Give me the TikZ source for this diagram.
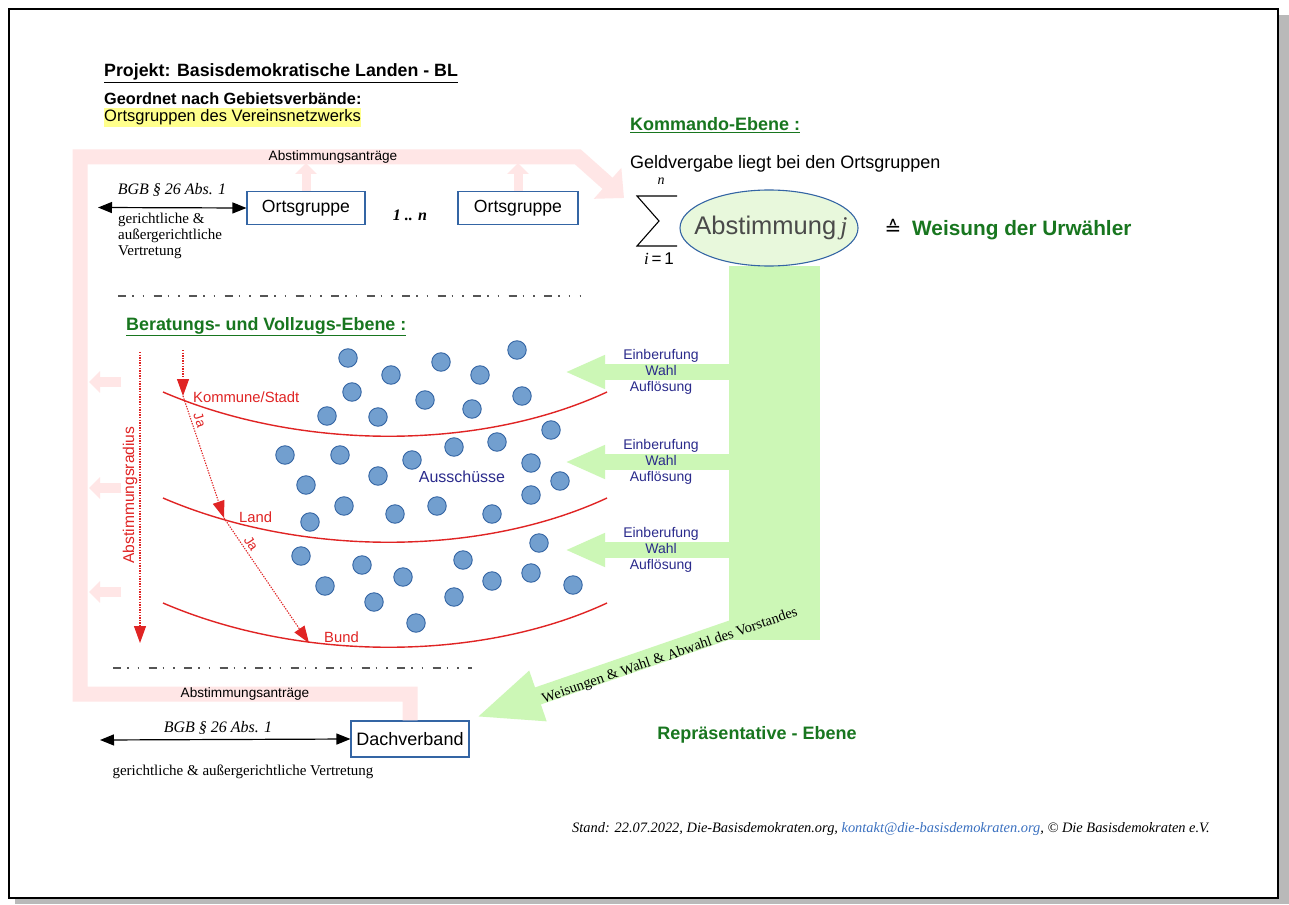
\documentclass[tikz,border=0pt]{standalone}
\usepackage{fontspec}
\setmainfont{Liberation Sans}
\newfontfamily\serif{Liberation Serif}
\newfontfamily\dejavu{DejaVu Sans}
\usetikzlibrary{arrows.meta,shapes.geometric}
\definecolor{sblue}{HTML}{3465A4}
\definecolor{cfill}{HTML}{729FCF}
\definecolor{egreen}{HTML}{E8F8DC}
\definecolor{lgreen}{HTML}{CCF7B6}
\definecolor{dgreen}{HTML}{18761F}
\definecolor{pinkb}{HTML}{FFE6E6}
\definecolor{redc}{HTML}{E02424}
\definecolor{navy}{HTML}{2B2B8C}
\definecolor{hilite}{HTML}{FFFF8C}
\definecolor{linkblue}{HTML}{3A70C0}
\definecolor{sepgray}{HTML}{555555}
\definecolor{abgray}{HTML}{4A4A4A}
\newcommand\fsz[2]{\fontsize{#1}{#2}\selectfont}
\begin{document}
\begin{tikzpicture}[x=1pt,y=-1pt,
  obox/.style={draw=sblue, line width=1.1pt, fill=white, inner sep=0pt, minimum height=33pt, font=\fsz{17.6}{20}},
  circ/.style={circle, draw=sblue, fill=cfill, line width=0.9pt, minimum size=18.5pt, inner sep=0pt},
  dblarrow/.style={line width=1.2pt, {Triangle[length=14pt,width=11pt]}-{Triangle[length=14pt,width=11pt]}},
  pinkband/.style={draw=pinkb, line width=15pt, line join=miter, -{Triangle[length=22pt,width=40pt]}},
  pinkup/.style={draw=pinkb, line width=9pt, -{Triangle[length=11pt,width=21pt]}},
  garrow/.style={draw=lgreen, line width=16pt, -{Triangle[length=40pt,width=31pt]}},
  reddot/.style={draw=redc, line width=1.1pt, dash pattern=on 1.3pt off 1.3pt, -{Triangle[length=17pt,width=12pt]}},
  redcurve/.style={draw=redc, line width=1.4pt},
  redlbl/.style={text=redc, font=\fsz{14.8}{17}, inner sep=1pt},
  sepline/.style={draw=sepgray, line width=1.4pt, dash pattern=on 8pt off 6pt on 1.5pt off 9pt on 1.5pt off 9.5pt},
  glbl/.style={text=navy, font=\fsz{14}{16}, align=center, inner sep=0pt},
  serifsm/.style={font=\serif\fsz{15}{16}, inner sep=0pt},
  bgb/.style={font=\serif\itshape\fsz{16}{18}, inner sep=0pt}
]
\useasboundingbox (0,0) rectangle (1289,904);
% page frame
\fill[white] (0,0) rectangle (1289,904);
\fill[gray!55] (15,15) rectangle (1289,904);
\draw[fill=white, line width=1.8pt] (9,9) rectangle (1278,898);

% header texts
\node[anchor=base west, inner sep=0pt] (title) at (104,77) {\fsz{17.8}{20}\bfseries\underline{Projekt: Basisdemokratische Landen - BL}};
\node[anchor=base west, inner sep=0pt] (geo) at (104,105) {\fsz{16.3}{18}\bfseries Geordnet nach Gebietsverbände:};
\node[anchor=base west, fill=hilite, inner xsep=0pt, inner ysep=2pt] (ovn) at (104,122) {\fsz{16.5}{18}Ortsgruppen des Vereinsnetzwerks};

% Kommando-Ebene
\node[anchor=base west, inner sep=0pt, text=dgreen] (kom) at (630,131) {\fsz{18}{20}\bfseries\underline{Kommando-Ebene :}};
\node[anchor=base west, inner sep=0pt] (geld) at (630,169) {\fsz{18}{20}Geldvergabe liegt bei den Ortsgruppen};

% green vertical band
\node[fill=lgreen, minimum width=91pt, minimum height=374pt, inner sep=0pt] (band) at (774.5,453) {};

% ellipse
\node[ellipse, draw=sblue, line width=1.1pt, fill=egreen, minimum width=178pt, minimum height=76pt, inner sep=0pt] (abst) at (769,228) {};
\node[inner sep=0pt] (abstt) at (771,228) {\color{abgray}\fsz{25.5}{28}Abstimmung\,{\serif\itshape j}};
% sum symbol
\draw[line width=1.1pt, line join=miter] (677,196) -- (637,196) -- (659,221) -- (637,246) -- (677,246);
\node[inner sep=0pt] (sn) at (661,181) {\serif\itshape\fsz{14}{16}n};
\node[inner sep=0pt] (si) at (659,259) {\fsz{17}{18}{\serif\itshape i}\,=\,1};
\node[inner sep=0pt] (corr) at (893,227) {\dejavu\fsz{20}{22}≙};
\node[anchor=base west, inner sep=0pt, text=dgreen] (weis) at (912,235) {\fsz{20.8}{23}\bfseries Weisung der Urwähler};

% Ortsgruppen
\node[obox, minimum width=118pt] (og1) at (306,208) {Ortsgruppe};
\node[obox, minimum width=120pt] (og2) at (518,208) {Ortsgruppe};
\node[inner sep=0pt] (dots) at (410,215) {\serif\bfseries\itshape\fsz{16}{18}1 .. n};
\coordinate (lend1) at (98,207.5);
\draw[dblarrow] (lend1) -- (og1.west);
\node[bgb] (bgb1) at (172,190) {BGB § 26 Abs. 1};
\node[serifsm, anchor=north west, align=left] (vert1) at (118,213) {gerichtliche \&\\außergerichtliche\\Vertretung};

% Dachverband
\node[obox, minimum width=118pt, minimum height=36pt, font=\fsz{18}{20}] (dach) at (410,739) {Dachverband};
\coordinate (lend2) at (100,740);
\draw[dblarrow] (lend2) -- (dach.west);
\node[bgb] (bgb2) at (218,728) {BGB § 26 Abs. 1};
\node[serifsm] (vert2) at (243,772) {gerichtliche \& außergerichtliche Vertretung};

% pink band (Abstimmungsanträge)
\draw[pinkband] (dach.north) |- (80,694) |- (578,157) -- (624,198);
\draw[pinkup] (og1.north) -- (og1.north |- 0,163);
\draw[pinkup] (og2.north) -- (og2.north |- 0,163);
\foreach \yy [count=\k] in {382,488,592} {
  \coordinate (ps\k) at (121,\yy);
  \coordinate (pe\k) at (89,\yy);
  \draw[draw=pinkb, line width=10pt, -{Triangle[length=11pt,width=21pt]}] (ps\k) -- (pe\k);
}
\node[inner sep=0pt] (aa1) at (333,157) {\fsz{13.6}{15}Abstimmungsanträge};
\node[inner sep=0pt] (aa2) at (245,694) {\fsz{13.6}{15}Abstimmungsanträge};

% separators
\draw[sepline] (118,296) -- (580,296);
\draw[sepline] (113,668) -- (472,668);

% Beratungs-Ebene
\node[anchor=base west, inner sep=0pt, text=dgreen] (ber) at (126,330) {\fsz{17.9}{20}\bfseries\underline{Beratungs- und Vollzugs-Ebene :}};

% red curves
\draw[redcurve] (163,392) .. controls (300,451) and (480,451) .. (607,392);
\draw[redcurve] (163,498) .. controls (300,557) and (480,557) .. (607,498);
\draw[redcurve] (163,603) .. controls (300,662) and (480,662) .. (607,603);
\node[redlbl, anchor=west] (kst) at (192,397) {Kommune/Stadt};
\node[redlbl, anchor=west] (lnd) at (238,517) {Land};
\node[redlbl, anchor=west] (bnd) at (323,637) {Bund};

% red dotted arrows
\coordinate (ar0) at (140,352);
\coordinate (ar1) at (140,643);
\draw[reddot] (ar0) -- (ar1);
\node[redlbl, rotate=90, font=\fsz{15.6}{17}] (radius) at (130,495) {Abstimmungsradius};
\coordinate (k0) at (183,350);
\coordinate (k1) at (183,396);
\coordinate (k2) at (224,518);
\coordinate (k3) at (309,643);
\draw[reddot] (k0) -- (k1);
\draw[reddot] (k1) -- node[sloped, above=2pt, pos=0.22, redlbl, font=\fsz{13.5}{14}] (ja1) {Ja} (k2);
\draw[reddot] (k2) -- node[sloped, above=2pt, pos=0.24, redlbl, font=\fsz{13.5}{14}] (ja2) {Ja} (k3);

% committees (circles)
\foreach \x/\y [count=\i] in {
  348/358, 517/350, 441/362, 391/375, 480/375, 352/392, 425/400, 522/396, 472/409, 327/416, 378/417,
  551/430, 497/442, 454/447, 285/455, 340/455, 412/460, 531/463, 378/476, 306/485, 560/481, 531/495,
  344/506, 437/506, 395/514, 492/514, 310/522,
  539/543, 301/556, 362/565, 463/560, 403/577, 531/573, 492/581, 325/586, 573/585, 454/597, 374/602, 416/623}
  \node[circ] (c\i) at (\x,\y) {};
\node[inner sep=0pt, text=navy] (aus) at (462,477) {\fsz{16}{18}Ausschüsse};

% green arrows from band
\foreach \yy [count=\k] in {372,462,550} {
  \coordinate (gt\k) at (565,\yy);
  \draw[garrow] (band.west |- gt\k) -- (gt\k);
  \node[glbl] (gl\k) at (661,\yy) {Einberufung\\Wahl\\Auflösung};
}

% diagonal arrow to Dachverband
\coordinate (dstart) at (770,616);
\draw[draw=lgreen, line width=18pt, -{Triangle[length=66pt,width=48pt]}] (dstart) -- ([shift={(6,-3)}]dach.north east);
\node[inner sep=0pt, rotate=19, font=\serif\fsz{14.6}{16}] (wwa) at (670,656) {Weisungen \& Wahl \& Abwahl des Vorstandes};

% Repräsentative Ebene
\node[inner sep=0pt, text=dgreen] (rep) at (757,735) {\fsz{18}{20}\bfseries Repräsentative - Ebene};

% footer
\node[anchor=west, inner sep=0pt] (foot) at (572,829) {\serif\itshape\fsz{14.4}{16}Stand: 22.07.2022, Die-Basisdemokraten.org, \textcolor{linkblue}{kontakt@die-basisdemokraten.org}, © Die Basisdemokraten e.V.};
\end{tikzpicture}
\end{document}
